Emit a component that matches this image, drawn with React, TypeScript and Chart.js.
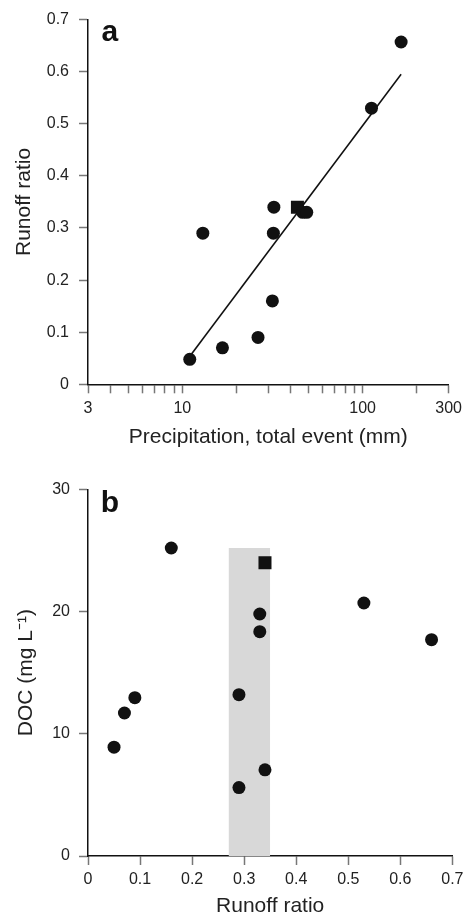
import React, { useEffect, useRef } from "react";
import { Chart, registerables } from "chart.js";

Chart.register(...registerables);

// ---------- Panel a data ----------
const precipitation = [11.0, 13.0, 16.7, 26.3, 31.6, 32.0, 32.2, 46.5, 49.0, 112, 163.5];
const runoffA = [0.048, 0.29, 0.07, 0.09, 0.16, 0.29, 0.34, 0.33, 0.33, 0.53, 0.657];
const squarePrecip = [43.5];
const squareRunoffA = [0.34];
const fitPrecip = [11.2, 163.5];
const fitRunoff = [0.057, 0.595];
const logTickValues = [3, 4, 5, 6, 7, 8, 9, 10, 20, 30, 40, 50, 60, 70, 80, 90, 100, 200, 300];
const logTickLabels = [3, 10, 100, 300];

// ---------- Panel b data ----------
const runoffB = [0.05, 0.07, 0.09, 0.16, 0.29, 0.29, 0.33, 0.33, 0.34, 0.53, 0.66];
const doc = [8.9, 11.7, 12.95, 25.2, 13.2, 5.6, 19.8, 18.35, 7.05, 20.7, 17.7];
const squareRunoffB = [0.34];
const squareDoc = [24.0];
const bandRunoff = [0.27, 0.35];
const bandDoc = [25.2, 25.2];

const FONT = "'Liberation Sans', Arial, Helvetica, sans-serif";
const INK = "#111";
const TEXT = "#222";
const TICK = "#777";

const zip = (xs: number[], ys: number[]) => xs.map((x, i) => ({ x, y: ys[i] }));

function panelLabel(text: string, dx: number, dy: number) {
  return {
    id: "panelLabel" + text,
    afterDraw(chart: any) {
      const { ctx, chartArea } = chart;
      ctx.save();
      ctx.font = `bold 30px ${FONT}`;
      ctx.fillStyle = INK;
      ctx.textBaseline = "alphabetic";
      ctx.textAlign = "left";
      ctx.fillText(text, chartArea.left + dx, chartArea.top + dy);
      ctx.restore();
    },
  };
}

function axisCommon(tickPad: number, tl: number) {
  return {
    grid: {
      display: true,
      drawOnChartArea: false,
      drawTicks: true,
      tickLength: tl,
      tickColor: TICK,
      tickWidth: 1.5,
    },
    border: { display: true, color: INK, width: 1.5 },
    ticks: {
      color: TEXT,
      font: { family: FONT, size: 16 },
      padding: tickPad,
      maxRotation: 0,
      autoSkip: false,
    },
  };
}

function useChart(ref: React.RefObject<HTMLCanvasElement>, make: (c: HTMLCanvasElement) => Chart) {
  useEffect(() => {
    if (!ref.current) return;
    const chart = make(ref.current);
    return () => chart.destroy();
  }, []);
}

export default function App() {
  const refA = useRef<HTMLCanvasElement>(null);
  const refB = useRef<HTMLCanvasElement>(null);

  useChart(refA as any, (canvas) => {
    const xc = axisCommon(6, 9);
    const yc = axisCommon(10, 9);
    return new Chart(canvas, {
      type: "scatter",
      data: {
        datasets: [
          {
            type: "line",
            data: zip(fitPrecip, fitRunoff),
            borderColor: INK,
            borderWidth: 1.6,
            pointRadius: 0,
            fill: false,
            order: 3,
          } as any,
          {
            data: zip(precipitation, runoffA),
            backgroundColor: INK,
            borderWidth: 0,
            pointRadius: 6.5,
            pointStyle: "circle",
            order: 1,
          },
          {
            data: zip(squarePrecip, squareRunoffA),
            backgroundColor: INK,
            borderWidth: 0,
            pointRadius: 9.2,
            pointStyle: "rect",
            order: 2,
          },
        ],
      },
      options: {
        responsive: false,
        animation: false,
        events: [],
        layout: { padding: { top: 17.3, right: 14, left: 0, bottom: 0 } },
        plugins: { legend: { display: false }, tooltip: { enabled: false } },
        scales: {
          x: {
            type: "logarithmic",
            min: 3,
            max: 300,
            ...xc,
            ticks: {
              ...xc.ticks,
              callback: (v: any) => (logTickLabels.includes(Number(v)) ? String(v) : ""),
            },
            afterBuildTicks: (s: any) => {
              s.ticks = logTickValues.map((v) => ({ value: v }));
            },
            afterFit: (s: any) => {
              s.height = 75.7;
            },
            title: {
              display: true,
              text: "Precipitation, total event (mm)",
              color: TEXT,
              font: { family: FONT, size: 21, lineHeight: 1.2 },
              padding: { top: 0, bottom: 10.2 },
            },
          },
          y: {
            type: "linear",
            min: 0,
            max: 0.7,
            ...yc,
            ticks: {
              ...yc.ticks,
              stepSize: 0.1,
              callback: (v: any) => (Number(v) === 0 ? "0" : Number(v).toFixed(1)),
            },
            afterFit: (s: any) => {
              s.width = 88;
            },
            title: {
              display: true,
              text: "Runoff ratio",
              color: TEXT,
              font: { family: FONT, size: 21, lineHeight: 1.2 },
              padding: { top: 11.8, bottom: 0 },
            },
          },
        },
      } as any,
      plugins: [panelLabel("a", 13.5, 21.2)],
    });
  });

  useChart(refB as any, (canvas) => {
    const xc = axisCommon(4.5, 9);
    const yc = axisCommon(9, 9);
    return new Chart(canvas, {
      type: "scatter",
      data: {
        datasets: [
          {
            type: "line",
            data: zip(bandRunoff, bandDoc),
            borderWidth: 0,
            borderColor: "rgba(0,0,0,0)",
            backgroundColor: "#d8d8d8",
            pointRadius: 0,
            fill: "origin",
            order: 3,
          } as any,
          {
            data: zip(runoffB, doc),
            backgroundColor: INK,
            borderWidth: 0,
            pointRadius: 6.5,
            pointStyle: "circle",
            order: 1,
          },
          {
            data: zip(squareRunoffB, squareDoc),
            backgroundColor: INK,
            borderWidth: 0,
            pointRadius: 9.2,
            pointStyle: "rect",
            order: 2,
          },
        ],
      },
      options: {
        responsive: false,
        animation: false,
        events: [],
        layout: { padding: { top: 29.3, right: 14, left: 0, bottom: 0 } },
        plugins: { legend: { display: false }, tooltip: { enabled: false } },
        scales: {
          x: {
            type: "linear",
            min: 0,
            max: 0.7,
            ...xc,
            ticks: {
              ...xc.ticks,
              stepSize: 0.1,
              callback: (v: any) => (Number(v) === 0 ? "0" : Number(v).toFixed(1)),
            },
            afterFit: (s: any) => {
              s.height = 62;
            },
            title: {
              display: true,
              text: "Runoff ratio",
              color: TEXT,
              font: { family: FONT, size: 21, lineHeight: 1.0 },
              padding: { top: 0, bottom: 0.8 },
            },
          },
          y: {
            type: "linear",
            min: 0,
            max: 30,
            ...yc,
            ticks: {
              ...yc.ticks,
              stepSize: 10,
            },
            afterFit: (s: any) => {
              s.width = 88;
            },
            title: {
              display: true,
              text: "DOC (mg L\u207B\u00B9)",
              color: TEXT,
              font: { family: FONT, size: 21, lineHeight: 1.2 },
              padding: { top: 14.1, bottom: 0 },
            },
          },
        },
      } as any,
      plugins: [panelLabel("b", 12.7, 22.9)],
    });
  });

  return (
    <div style={{ position: "absolute", left: 0, top: 0, width: 468, height: 918, background: "#fff" }}>
      <canvas ref={refA} width={468} height={460} style={{ position: "absolute", left: 0, top: 0, display: "block" }} />
      <canvas ref={refB} width={468} height={458} style={{ position: "absolute", left: 0, top: 460, display: "block" }} />
    </div>
  );
}
